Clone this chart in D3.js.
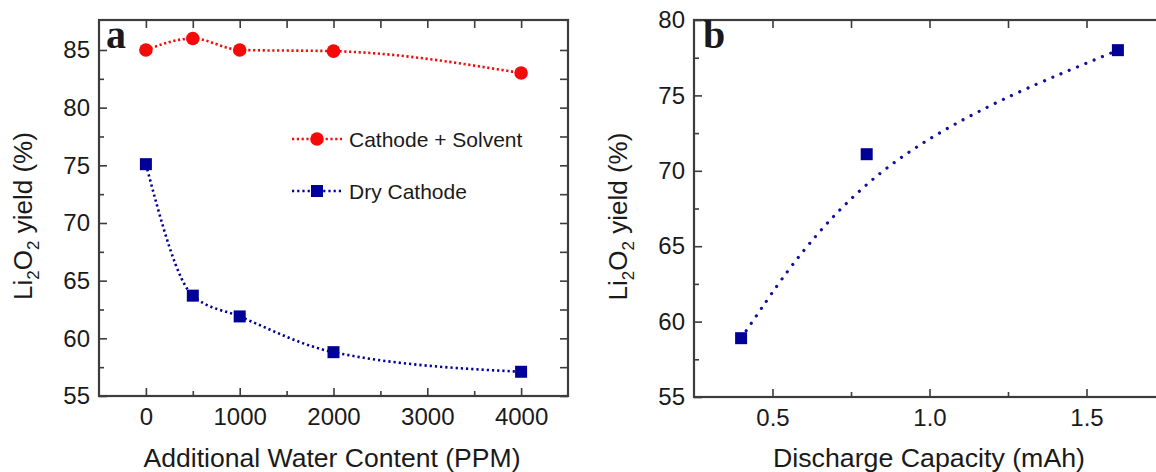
<!DOCTYPE html>
<html>
<head>
<meta charset="utf-8">
<script src="https://cdn.jsdelivr.net/npm/d3@7"></script>
<style>
  html, body { margin: 0; padding: 0; background: #fff; }
  svg { display: block; }
  text { font-family: "Liberation Sans", Arial, sans-serif; fill: #1a1a1a; }
</style>
</head>
<body>
<svg id="chart" width="1156" height="472"></svg>
<script>
// ---- data ----
const waterPPM = [0, 500, 1000, 2000, 4000];
const solventYield = [85.0, 86.0, 85.0, 84.9, 83.0];
const dryYield = [75.1, 63.7, 61.9, 58.8, 57.1];

const capacity = [0.4, 0.8, 1.6];
const capacityYield = [58.9, 71.1, 78.0];

const aXTicks = [0, 1000, 2000, 3000, 4000];
const aXMinor = [500, 1500, 2500, 3500];
const aYTicks = [55, 60, 65, 70, 75, 80, 85];
const aYMinor = [57.5, 62.5, 67.5, 72.5, 77.5, 82.5];
const bXTicks = [0.5, 1.0, 1.5];
const bXMinor = [0.75, 1.25];
const bYTicks = [55, 60, 65, 70, 75, 80];
const bYMinor = [57.5, 62.5, 67.5, 72.5, 77.5];

const legendLabels = ["Cathode + Solvent", "Dry Cathode"];

// ---- setup ----
const svg = d3.select("#chart");
const RED = "#f50a0a", BLUE = "#000099", AXIS = "#3c3c3c";

function panel(cfg) {
  const g = svg.append("g");
  const x = d3.scaleLinear().domain(cfg.xDomain).range(cfg.xRange);
  const y = d3.scaleLinear().domain(cfg.yDomain).range(cfg.yRange);
  const [x0, x1] = cfg.xRange, [y1, y0] = cfg.yRange;

  function styleAxis(sel) {
    sel.select(".domain").remove();
    sel.selectAll(".tick line").attr("stroke", AXIS).attr("stroke-width", 1.6);
    sel.selectAll("text").style("font-size", "24px").attr("fill", "#1a1a1a")
      .style("font-family", '"Liberation Sans", Arial, sans-serif');
  }
  // major + minor ticks on all sides (inward)
  g.append("g").attr("transform", `translate(0,${y1})`)
    .call(d3.axisBottom(x).tickValues(cfg.xTicks).tickFormat(cfg.xFmt).tickSize(-8).tickPadding(12))
    .call(styleAxis);
  g.append("g").attr("transform", `translate(0,${y1})`)
    .call(d3.axisBottom(x).tickValues(cfg.xMinor).tickFormat("").tickSize(-5)).call(styleAxis);
  g.append("g").attr("transform", `translate(0,${y0})`)
    .call(d3.axisTop(x).tickValues(cfg.xTicks).tickFormat("").tickSize(-8)).call(styleAxis);
  g.append("g").attr("transform", `translate(0,${y0})`)
    .call(d3.axisTop(x).tickValues(cfg.xMinor).tickFormat("").tickSize(-8)).call(styleAxis);
  g.append("g").attr("transform", `translate(${x0},0)`)
    .call(d3.axisLeft(y).tickValues(cfg.yTicks).tickFormat(d3.format("d")).tickSize(-8).tickPadding(9))
    .call(styleAxis);
  g.append("g").attr("transform", `translate(${x0},0)`)
    .call(d3.axisLeft(y).tickValues(cfg.yMinor).tickFormat("").tickSize(-5)).call(styleAxis);
  g.append("g").attr("transform", `translate(${x1},0)`)
    .call(d3.axisRight(y).tickValues(cfg.yTicks).tickFormat("").tickSize(-8)).call(styleAxis);
  g.append("g").attr("transform", `translate(${x1},0)`)
    .call(d3.axisRight(y).tickValues(cfg.yMinor).tickFormat("").tickSize(-8)).call(styleAxis);

  // frame
  g.append("rect").attr("x", x0).attr("y", y0).attr("width", x1 - x0).attr("height", y1 - y0)
    .attr("fill", "none").attr("stroke", AXIS).attr("stroke-width", 2.2);

  // axis titles
  g.append("text").attr("x", cfg.xTitleX).attr("y", 467)
    .attr("text-anchor", "middle").style("font-size", "26px")
    .attr("textLength", cfg.xTitleLen).attr("lengthAdjust", "spacingAndGlyphs")
    .text(cfg.xTitle);

  const yt = g.append("text")
    .attr("transform", `translate(${cfg.yTitleX},${(y0 + y1) / 2 + 8}) rotate(-90)`)
    .attr("text-anchor", "middle").style("font-size", "26px");
  yt.append("tspan").text("Li");
  yt.append("tspan").text("2").style("font-size", "17px").attr("dy", 7);
  yt.append("tspan").text("O").attr("dy", -7);
  yt.append("tspan").text("2").style("font-size", "17px").attr("dy", 7);
  yt.append("tspan").text(" yield (%)").attr("dy", -7);

  // panel letter
  g.append("text").attr("x", x0 + cfg.letterDx).attr("y", y0 + 28)
    .style("font-family", '"Liberation Serif", "Times New Roman", serif')
    .style("font-weight", "bold").style("font-size", "40px").attr("fill", "#000")
    .text(cfg.letter);

  return { g, x, y };
}

// ---- panel a ----
const A = panel({
  xDomain: [-500, 4500], xRange: [99, 568],
  yDomain: [55, 87.6], yRange: [396, 20],
  xTicks: aXTicks, xMinor: aXMinor, yTicks: aYTicks, yMinor: aYMinor,
  xFmt: d3.format("d"),
  xTitle: "Additional Water Content (PPM)", xTitleX: 332, xTitleLen: 377,
  yTitleX: 32, letter: "a", letterDx: 7
});

const lineA = d3.line().x(d => A.x(d[0])).y(d => A.y(d[1])).curve(d3.curveMonotoneX);
const solvPts = waterPPM.map((w, i) => [w, solventYield[i]]);
const dryPts = waterPPM.map((w, i) => [w, dryYield[i]]);

A.g.append("path").attr("d", lineA(solvPts)).attr("fill", "none")
  .attr("stroke", RED).attr("stroke-width", 2.6).attr("stroke-dasharray", "2.2,2.6");
A.g.append("path").attr("d", lineA(dryPts)).attr("fill", "none")
  .attr("stroke", BLUE).attr("stroke-width", 2.6).attr("stroke-dasharray", "2.2,3");

A.g.selectAll("circle.s").data(solvPts).join("circle")
  .attr("cx", d => A.x(d[0])).attr("cy", d => A.y(d[1])).attr("r", 6.8).attr("fill", RED);
A.g.selectAll("rect.d").data(dryPts).join("rect")
  .attr("x", d => A.x(d[0]) - 6).attr("y", d => A.y(d[1]) - 6)
  .attr("width", 12).attr("height", 12).attr("fill", BLUE);

// legend
const legY = [139, 191];
const leg = A.g.append("g");
leg.append("line").attr("x1", 292).attr("x2", 342).attr("y1", legY[0]).attr("y2", legY[0])
  .attr("stroke", RED).attr("stroke-width", 2.6).attr("stroke-dasharray", "2.2,2.6");
leg.append("circle").attr("cx", 317).attr("cy", legY[0]).attr("r", 6.8).attr("fill", RED);
leg.append("line").attr("x1", 292).attr("x2", 342).attr("y1", legY[1]).attr("y2", legY[1])
  .attr("stroke", BLUE).attr("stroke-width", 2.6).attr("stroke-dasharray", "2.2,3");
leg.append("rect").attr("x", 311).attr("y", legY[1] - 6).attr("width", 12).attr("height", 12).attr("fill", BLUE);
legendLabels.forEach((t, i) => {
  leg.append("text").attr("x", 349).attr("y", legY[i] + 7.5).style("font-size", "21px").text(t);
});

// ---- panel b ----
const B = panel({
  xDomain: [0.25, 1.75], xRange: [694, 1165],
  yDomain: [55, 80], yRange: [397, 20],
  xTicks: bXTicks, xMinor: bXMinor, yTicks: bYTicks, yMinor: bYMinor,
  xFmt: d3.format(".1f"),
  xTitle: "Discharge Capacity (mAh)", xTitleX: 929, xTitleLen: 312,
  yTitleX: 627, letter: "b", letterDx: 9
});

const capPts = capacity.map((c, i) => [c, capacityYield[i]]);
const lineB = d3.line().x(d => B.x(d[0])).y(d => B.y(d[1])).curve(d3.curveBasis);
B.g.append("path").attr("d", lineB(capPts)).attr("fill", "none")
  .attr("stroke", "#1010a0").attr("stroke-width", 3.2).attr("stroke-dasharray", "0.01,9")
  .attr("stroke-linecap", "round");
B.g.selectAll("rect.c").data(capPts).join("rect")
  .attr("x", d => B.x(d[0]) - 6).attr("y", d => B.y(d[1]) - 6)
  .attr("width", 12).attr("height", 12).attr("fill", BLUE);
</script>
</body>
</html>
